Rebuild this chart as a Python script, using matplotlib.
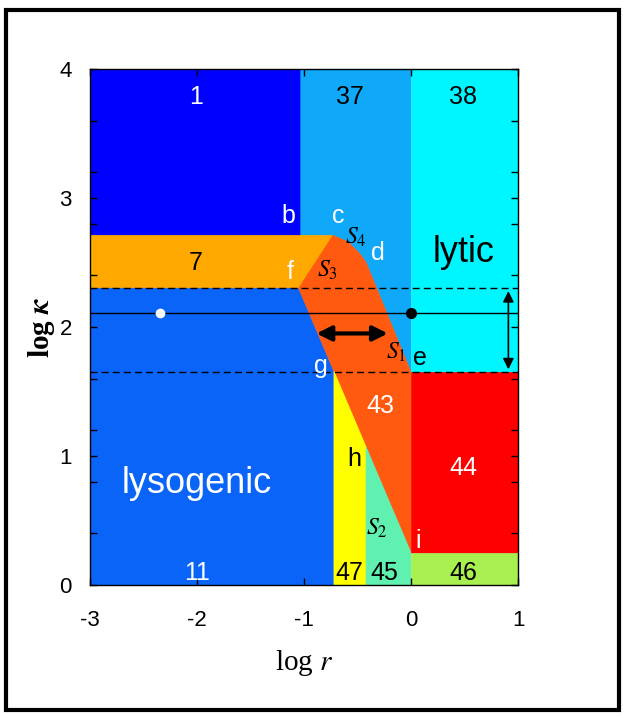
import matplotlib
matplotlib.use('Agg')
import matplotlib.pyplot as plt
from matplotlib.patches import Polygon, Rectangle
import numpy as np

plt.rcParams['mathtext.fontset'] = 'stix'

# region boundaries (log r, log kappa)
r_lo, r_hi = -3, 1
k_lo, k_hi = 0, 4
k_c = 2.71      # top of region 7
k_f = 2.3       # upper dashed line
k_e = 1.65      # lower dashed line
k_i = 0.25      # top of region 46
k_line = 2.11   # solid line
r_b = -1.03
r_g = -0.72
r_h = -0.42
# curved boundary S4 from c towards d
s4_r = [-0.73, -0.59, -0.48, -0.42]
s4_k = [2.71, 2.66, 2.57, 2.50]
# diagonal S3/S2 boundary from i up to f
diag_r = [0.0, -1.05]
diag_k = [0.25, 2.30]

def diag_at(r):
    return np.interp(r, diag_r[::-1], diag_k[::-1])

s4 = list(zip(s4_r, s4_k))

reg1 = [(r_lo, k_c), (r_b, k_c), (r_b, k_hi), (r_lo, k_hi)]
reg37 = [(r_b, k_c)] + s4 + [(0, k_e), (0, k_hi), (r_b, k_hi)]
reg38 = [(0, k_e), (r_hi, k_e), (r_hi, k_hi), (0, k_hi)]
reg7 = [(r_lo, k_f), (diag_r[1], k_f), (s4_r[0], k_c), (r_lo, k_c)]
reg11 = [(r_lo, k_lo), (r_g, k_lo), (r_g, diag_at(r_g)), (diag_r[1], diag_k[1]), (r_lo, k_f)]
reg43 = s4 + [(0, k_e), (diag_r[0], diag_k[0]), (diag_r[1], diag_k[1])]
reg47 = [(r_g, k_lo), (r_h, k_lo), (r_h, diag_at(r_h)), (r_g, diag_at(r_g))]
reg45 = [(r_h, k_lo), (0, k_lo), (0, k_i), (r_h, diag_at(r_h))]
reg44 = [(0, k_i), (r_hi, k_i), (r_hi, k_e), (0, k_e)]
reg46 = [(0, k_lo), (r_hi, k_lo), (r_hi, k_i), (0, k_i)]

regions = [reg1, reg37, reg38, reg7, reg11, reg43, reg47, reg45, reg44, reg46]
colors = ['#0000ff', '#10a8f8', '#00f6ff', '#ffa800', '#0a64f8', '#ff5a10',
          '#ffff00', '#60f0b0', '#ff0000', '#a8f050']

# labels: text, r, kappa, colour, kind
labels = [('1', -2.01, 3.78, 'white', 'n'), ('37', -0.57, 3.78, 'black', 'n'),
          ('38', 0.49, 3.78, 'black', 'n'), ('b', -1.15, 2.86, 'white', 'n'),
          ('c', -0.68, 2.86, 'white', 'n'), ('d', -0.31, 2.57, 'white', 'n'),
          ('lytic', 0.49, 2.58, 'black', 'big'), ('7', -2.01, 2.50, 'black', 'n'),
          ('f', -1.13, 2.43, 'white', 'n'), ('e', 0.08, 1.76, 'black', 'n'),
          ('g', -0.84, 1.70, 'white', 'n'), ('43', -0.29, 1.39, 'white', 'n'),
          ('h', -0.53, 0.98, 'black', 'n'), ('44', 0.49, 0.91, 'white', 'n'),
          ('lysogenic', -2.0, 0.79, 'white', 'big'), ('i', 0.07, 0.34, 'white', 'n'),
          ('11', -2.0, 0.09, 'white', 'n'), ('47', -0.58, 0.09, 'black', 'n'),
          ('45', -0.25, 0.09, 'black', 'n'), ('46', 0.49, 0.09, 'black', 'n')]
s_labels = [(r'$S_4$', -0.52, 2.70), (r'$S_3$', -0.78, 2.44),
            (r'$S_1$', -0.14, 1.81), (r'$S_2$', -0.32, 0.44)]

sans = ['Liberation Sans', 'DejaVu Sans']
serif = ['Liberation Serif', 'DejaVu Serif']

fig = plt.figure(figsize=(6.28, 7.18), dpi=100)
fig.patches.append(Rectangle((6 / 628, 8 / 718), 613 / 628, 700 / 718, transform=fig.transFigure,
                             fill=False, edgecolor='black', linewidth=3))
ax = fig.add_axes([90 / 628, 1 - 585 / 718, 428 / 628, 516 / 718])

for poly, col in zip(regions, colors):
    ax.add_patch(Polygon(poly, closed=True, facecolor=col, edgecolor=col, linewidth=0.5))

ax.axhline(k_f, color='black', linestyle='--', linewidth=1, dashes=(5, 3))
ax.axhline(k_e, color='black', linestyle='--', linewidth=1, dashes=(5, 3))
ax.axhline(k_line, color='black', linewidth=1)
ax.plot([-2.35], [k_line], 'o', color='white', markersize=7, markeredgewidth=0)
ax.plot([0.0], [k_line], 'o', color='black', markersize=7)

ax.annotate('', xy=(-0.91, 1.95), xytext=(-0.19, 1.95),
            arrowprops=dict(arrowstyle='<|-|>', color='black', lw=3, mutation_scale=22))
ax.annotate('', xy=(0.91, k_f), xytext=(0.91, k_e),
            arrowprops=dict(arrowstyle='<|-|>', color='black', lw=1.2, mutation_scale=16))

for txt, x, y, c, kind in labels:
    ax.text(x, y, txt, color=c, ha='center', va='center', family=sans,
            fontsize=26 if kind == 'big' else 18)
for txt, x, y in s_labels:
    ax.text(x, y, txt, color='black', ha='center', va='center', fontsize=17)

ax.set_xlim(r_lo, r_hi)
ax.set_ylim(k_lo, k_hi)
ax.set_xticks(np.arange(r_lo, r_hi + 1))
ax.set_xticklabels(['-3', '-2', '-1', '0', '1'])
ax.set_yticks(np.arange(k_lo, k_hi + 1))
ax.set_yticks(np.arange(0, 4.01, 0.4), minor=True)
ax.tick_params(which='both', direction='in', top=True, right=True, length=5, width=1,
               labelsize=16)
ax.tick_params(axis='x', pad=18)
ax.tick_params(axis='y', pad=13)
for lab in ax.get_xticklabels() + ax.get_yticklabels():
    lab.set_family(sans)
ax.set_xlabel(r'log $\it{r}$', family=serif, fontsize=21, labelpad=12)
ax.set_ylabel(r'log $\boldsymbol{\kappa}$', family=serif, fontsize=21, fontweight='bold', labelpad=2)
for s in ax.spines.values():
    s.set_linewidth(1)

fig.savefig('out.png', dpi=100)
